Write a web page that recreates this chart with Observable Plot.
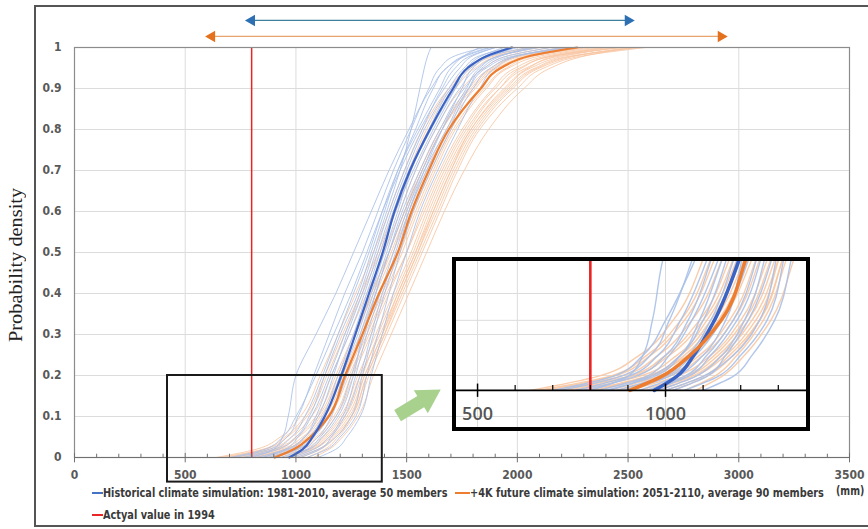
<!DOCTYPE html>
<html>
<head>
<meta charset="utf-8">
<script src="https://cdn.jsdelivr.net/npm/d3@7"></script>
<script src="https://cdn.jsdelivr.net/npm/@observablehq/plot@0.6"></script>
<style>
  html, body { margin: 0; padding: 0; background: #fff; }
  body { width: 868px; height: 529px; overflow: hidden; position: relative; }
  #main { position: absolute; left: 0; top: 0; }
  #frame { position: absolute; left: 34px; top: 5px; width: 900px; height: 518px; border: 2px solid #555; pointer-events: none; }
  #inset { position: absolute; left: 452px; top: 257px; width: 350px; height: 166px; border: 4px solid #000; overflow: hidden; }
  .lab { position: absolute; font-family: "Liberation Sans Narrow", "DejaVu Sans Condensed", "Arial Narrow", sans-serif; font-weight: bold; font-size: 12px; line-height: 14px; color: #3a3a3a; white-space: nowrap; transform-origin: left center; }
  .sw { position: absolute; height: 2px; }
  #ytitle { position: absolute; left: -84px; top: 253px; width: 200px; height: 24px; line-height: 24px; text-align: center; transform: rotate(-90deg); font-family: "Liberation Serif", "DejaVu Serif", serif; font-size: 19px; color: #222; white-space: nowrap; }
  #ytitle span { display: inline-block; transform-origin: center center; }
</style>
</head>
<body>
<div id="main"></div>
<div id="inset"></div>
<div id="frame"></div>
<div id="ytitle"><span>Probability density</span></div>
<div class="sw" style="left:92px;top:492px;width:11px;background:#4472c4"></div>
<div class="lab" id="lg1" style="left:103px;top:486px">Historical climate simulation: 1981-2010, average 50 members</div>
<div class="sw" style="left:455px;top:492px;width:15px;background:#ed7d31"></div>
<div class="lab" id="lg2" style="left:470px;top:486px">+4K future climate simulation: 2051-2110, average 90 members</div>
<div class="lab" id="lg3" style="left:836px;top:484px">(mm)</div>
<div class="sw" style="left:92px;top:514px;width:11px;background:#e8262a"></div>
<div class="lab" id="lg4" style="left:103px;top:508px">Actyal value in 1994</div>
<script>
// ---------- data ----------
const xTicks = [0, 500, 1000, 1500, 2000, 2500, 3000, 3500];
const xMinorTicks = [100,200,300,400,600,700,800,900,1100,1200,1300,1400,1600,1700,1800,1900,2100,2200,2300,2400,2600,2700,2800,2900,3100,3200,3300,3400];
const yTicks = [0, 0.1, 0.2, 0.3, 0.4, 0.5, 0.6, 0.7, 0.8, 0.9, 1];
const yTickLabels = ["0", "0.1", "0.2", "0.3", "0.4", "0.5", "0.6", "0.7", "0.8", "0.9", "1"];

// cumulative probability levels at which each curve was read
const probs = [0, 0.02, 0.05, 0.1, 0.2, 0.3, 0.4, 0.5, 0.6, 0.7, 0.8, 0.9, 0.95, 0.98, 1];

// ensemble means (mm)
const histMean = [970, 1030, 1075, 1130, 1205, 1268, 1330, 1392, 1445, 1515, 1605, 1710, 1775, 1865, 1975];
const futMean  = [905, 990, 1065, 1148, 1222, 1300, 1375, 1460, 1522, 1600, 1690, 1835, 1925, 2060, 2270];

// individual members (mm), read approximately
const histMembers = [
  [720, 880, 960, 1010, 1080, 1150, 1220, 1300, 1370, 1440, 1520, 1600, 1650, 1720, 1850],
  [850, 960, 1040, 1100, 1170, 1230, 1300, 1360, 1420, 1490, 1570, 1660, 1720, 1790, 1900],
  [900, 1010, 1080, 1150, 1230, 1290, 1350, 1410, 1470, 1540, 1630, 1740, 1820, 1920, 2080],
  [780, 920, 1000, 1060, 1130, 1200, 1280, 1340, 1400, 1460, 1540, 1620, 1680, 1770, 1880],
  [950, 1050, 1110, 1180, 1250, 1310, 1360, 1420, 1480, 1560, 1650, 1760, 1850, 1960, 2150],
  [980, 1080, 1150, 1210, 1270, 1320, 1380, 1440, 1500, 1580, 1680, 1780, 1860, 1990, 2230],
  [820, 950, 1010, 1070, 1150, 1220, 1290, 1350, 1410, 1470, 1520, 1560, 1580, 1595, 1610],
  [1000, 1100, 1180, 1250, 1300, 1350, 1400, 1460, 1510, 1580, 1660, 1750, 1800, 1880, 2000],
  [870, 990, 1060, 1120, 1190, 1260, 1320, 1380, 1440, 1510, 1600, 1700, 1780, 1860, 1960],
  [1050, 1140, 1200, 1270, 1320, 1370, 1420, 1470, 1530, 1610, 1700, 1800, 1880, 2000, 2200],
  [760, 900, 980, 1040, 1120, 1190, 1260, 1330, 1390, 1460, 1550, 1650, 1700, 1760, 1830],
  [930, 1030, 1100, 1160, 1210, 1280, 1340, 1400, 1460, 1520, 1610, 1720, 1790, 1880, 2050],
  [1100, 1180, 1230, 1290, 1340, 1390, 1440, 1500, 1560, 1640, 1730, 1830, 1900, 2010, 2270],
  [890, 1000, 1070, 1130, 1200, 1270, 1330, 1390, 1450, 1530, 1620, 1720, 1770, 1840, 1940],
  [960, 1060, 1120, 1190, 1260, 1300, 1360, 1420, 1490, 1570, 1660, 1770, 1830, 1920, 2100],
  [700, 860, 940, 1000, 1090, 1170, 1250, 1320, 1390, 1470, 1560, 1670, 1740, 1800, 1900],
  [1020, 1110, 1160, 1220, 1290, 1340, 1390, 1450, 1510, 1590, 1690, 1780, 1840, 1930, 2060],
  [840, 970, 1040, 1090, 1160, 1240, 1310, 1370, 1430, 1500, 1580, 1690, 1760, 1830, 1980],
  [800, 900, 940, 965, 1000, 1090, 1180, 1260, 1340, 1420, 1510, 1610, 1680, 1760, 1870]
];
const futMembers = [
  [640, 820, 930, 1020, 1110, 1190, 1270, 1350, 1420, 1490, 1570, 1690, 1780, 1880, 2050],
  [720, 900, 1000, 1090, 1180, 1260, 1340, 1420, 1490, 1560, 1650, 1780, 1880, 2000, 2200],
  [850, 980, 1070, 1150, 1240, 1320, 1400, 1480, 1550, 1630, 1720, 1860, 1960, 2110, 2350],
  [900, 1030, 1120, 1200, 1280, 1360, 1440, 1520, 1590, 1670, 1770, 1920, 2040, 2200, 2450],
  [980, 1080, 1160, 1240, 1310, 1390, 1470, 1550, 1620, 1700, 1800, 1960, 2080, 2250, 2550],
  [760, 930, 1030, 1110, 1200, 1270, 1350, 1430, 1500, 1570, 1660, 1800, 1900, 2030, 2280],
  [1050, 1130, 1190, 1260, 1330, 1410, 1490, 1570, 1650, 1730, 1830, 2000, 2120, 2300, 2580],
  [680, 860, 960, 1050, 1140, 1220, 1300, 1380, 1450, 1520, 1600, 1720, 1810, 1920, 2100],
  [820, 960, 1050, 1130, 1220, 1300, 1380, 1460, 1530, 1610, 1700, 1830, 1930, 2070, 2320],
  [930, 1050, 1130, 1210, 1290, 1380, 1460, 1540, 1610, 1690, 1790, 1940, 2050, 2180, 2400],
  [700, 880, 980, 1070, 1160, 1240, 1320, 1400, 1470, 1540, 1630, 1750, 1850, 1960, 2150],
  [870, 1000, 1090, 1170, 1250, 1330, 1410, 1500, 1570, 1650, 1750, 1890, 1990, 2140, 2380],
  [1000, 1100, 1170, 1250, 1320, 1400, 1480, 1560, 1640, 1720, 1820, 1980, 2100, 2270, 2500],
  [790, 950, 1040, 1120, 1210, 1290, 1360, 1440, 1510, 1590, 1680, 1810, 1910, 2050, 2260],
  [950, 1060, 1140, 1220, 1300, 1370, 1450, 1530, 1600, 1680, 1780, 1920, 2020, 2160, 2420],
  [660, 850, 950, 1040, 1130, 1210, 1290, 1370, 1440, 1510, 1590, 1700, 1790, 1900, 2080],
  [880, 1010, 1100, 1180, 1260, 1340, 1420, 1500, 1580, 1660, 1760, 1900, 2010, 2170, 2480],
  [1080, 1150, 1210, 1280, 1350, 1430, 1510, 1590, 1670, 1760, 1870, 2030, 2150, 2310, 2520],
  [740, 910, 1010, 1100, 1190, 1270, 1340, 1420, 1490, 1570, 1660, 1790, 1890, 2010, 2230],
  [960, 1070, 1150, 1230, 1310, 1390, 1460, 1540, 1620, 1700, 1790, 1950, 2060, 2220, 2450],
  [810, 950, 1060, 1140, 1230, 1310, 1390, 1470, 1540, 1620, 1710, 1850, 1950, 2080, 2300],
  [1020, 1110, 1180, 1250, 1320, 1400, 1470, 1550, 1630, 1710, 1810, 1970, 2090, 2260, 2540]
];

const actual1994 = 800;
const histRange = [800, 2500];
const futRange = [620, 2920];
const zoomX = [420, 1390];
const zoomY = [-0.06, 0.2];
const insetX = [444, 1375];
const insetY = [-0.053, 0.184];
const insetTicks = [500, 1000];
const insetMinor = [600, 700, 800, 900, 1100, 1200, 1300];

// ---------- tables ----------
const toRows = (members, tag) => members.flatMap((m, i) => m.map((x, j) => ({member: tag + i, x, p: probs[j]})));
const histRows = toRows(histMembers, "h");
const futRows = toRows(futMembers, "f");
const histMeanRows = histMean.map((x, j) => ({x, p: probs[j]}));
const futMeanRows = futMean.map((x, j) => ({x, p: probs[j]}));

const tickFont = {fontFamily: '"Liberation Sans Narrow", "DejaVu Sans Condensed", "Arial Narrow", sans-serif', fontWeight: "bold", fontSize: 12, fill: "#595959"};

const C = {
  histLight: "#a9c0e8", futLight: "#f8c6a2",
  hist: "#3b63c4", fut: "#ed7d31", red: "#ea2424"
};

// ---------- main chart ----------
const main = Plot.plot({
  width: 868, height: 529,
  marginLeft: 74, marginRight: 19, marginTop: 47, marginBottom: 72,
  x: {domain: [0, 3500], axis: null},
  y: {domain: [0, 1], axis: null},
  style: {background: "transparent", overflow: "visible"},
  marks: [
    Plot.ruleX(xTicks.slice(1, -1), {stroke: "#dcdcdc", strokeWidth: 1}),
    Plot.ruleY(yTicks.slice(1, -1), {stroke: "#dcdcdc", strokeWidth: 1}),
    Plot.line(futRows, {x: "x", y: "p", z: "member", stroke: C.futLight, strokeWidth: 1, strokeOpacity: 0.85, curve: "monotone-y"}),
    Plot.line(histRows, {x: "x", y: "p", z: "member", stroke: C.histLight, strokeWidth: 1, strokeOpacity: 0.85, curve: "monotone-y"}),
    Plot.line(futMeanRows, {x: "x", y: "p", stroke: C.fut, strokeWidth: 2.2, curve: "monotone-y"}),
    Plot.line(histMeanRows, {x: "x", y: "p", stroke: C.hist, strokeWidth: 2.2, curve: "monotone-y"}),
    Plot.ruleX([actual1994], {y1: 0, y2: 1, stroke: C.red, strokeWidth: 1.5}),
    Plot.frame({stroke: "#8c8c8c", strokeWidth: 1.2}),
    Plot.ruleY([0], {stroke: "#707070", strokeWidth: 1.2}),
    Plot.ruleX(xTicks, {y1: -0.013, y2: 0.01, stroke: "#707070", strokeWidth: 1}),
    Plot.ruleX(xMinorTicks, {y1: 0, y2: 0.008, stroke: "#707070", strokeWidth: 1}),
    Plot.text(xTicks, {x: d => d, y: 0, dy: 18, text: d => String(d), ...tickFont}),
    Plot.text(yTicks, {x: 0, y: d => d, dx: -13, textAnchor: "end", text: (d, i) => yTickLabels[i], ...tickFont}),
    // zoom region box
    Plot.rect([0], {x1: zoomX[0], x2: zoomX[1], y1: zoomY[0], y2: zoomY[1], fill: "none", stroke: "#1a1a1a", strokeWidth: 2}),
    // range arrows
    Plot.link([0], {x1: histRange[0], x2: histRange[1], y1: 1.066, y2: 1.066, stroke: "#3d7f9c", strokeWidth: 1.3}),
    Plot.dot(histRange, {x: d => d, y: 1.066, symbol: "triangle", r: 4.3, fill: "#2d6fb3", stroke: "none", rotate: (d, i) => i ? 90 : -90}),
    Plot.link([0], {x1: futRange[0], x2: futRange[1], y1: 1.027, y2: 1.027, stroke: "#e8a46c", strokeWidth: 1.3}),
    Plot.dot(futRange, {x: d => d, y: 1.027, symbol: "triangle", r: 4.3, fill: "#e4711e", stroke: "none", rotate: (d, i) => i ? 90 : -90}),
    // green pointer arrow to the inset
    Plot.link([0], {x1: 1459, y1: 0.102, x2: 1575, y2: 0.140, stroke: "#a9d18e", strokeWidth: 13}),
    Plot.dot([0], {x: 1594, y: 0.146, symbol: "triangle", r: 10, fill: "#a9d18e", stroke: "none", rotate: 58.6})
  ]
});
document.getElementById("main").append(main);

// ---------- inset (zoom of lower tail) ----------
const inset = Plot.plot({
  width: 350, height: 166, margin: 0,
  x: {domain: insetX, axis: null},
  y: {domain: insetY, axis: null},
  style: {background: "transparent"},
  marks: [
    Plot.ruleX(insetTicks, {stroke: "#dcdcdc"}),
    Plot.ruleY([0.1], {stroke: "#dcdcdc"}),
    Plot.line(futRows, {x: "x", y: "p", z: "member", stroke: C.futLight, strokeWidth: 1.4, strokeOpacity: 0.9, curve: "monotone-y", clip: true}),
    Plot.line(histRows, {x: "x", y: "p", z: "member", stroke: C.histLight, strokeWidth: 1.4, strokeOpacity: 0.9, curve: "monotone-y", clip: true}),
    Plot.line(histMeanRows, {x: "x", y: "p", stroke: C.hist, strokeWidth: 3.5, curve: "monotone-y", clip: true}),
    Plot.line(futMeanRows, {x: "x", y: "p", stroke: C.fut, strokeWidth: 3.5, curve: "monotone-y", clip: true}),
    Plot.ruleX([actual1994], {y1: 0, y2: 0.2, stroke: C.red, strokeWidth: 2.6}),
    Plot.ruleY([0], {stroke: "#000", strokeWidth: 1.6}),
    Plot.ruleX(insetTicks, {y1: -0.01, y2: 0.009, stroke: "#000", strokeWidth: 1.5}),
    Plot.ruleX(insetMinor, {y1: 0, y2: 0.007, stroke: "#000", strokeWidth: 1.2}),
    Plot.text(insetTicks, {x: d => d, y: -0.034, text: d => String(d), fontFamily: '"Open Sans", "DejaVu Sans", sans-serif', fontWeight: 600, fontSize: 18, fill: "#555"})
  ]
});
document.getElementById("inset").append(inset);

// ---------- fit legend / title text widths (layout widths, not rotated boxes) ----------
function fit(el, w) {
  el.style.transform = "none";
  const r = el.offsetWidth;
  if (r > 0) el.style.transform = `scaleX(${w / r})`;
}
function fitAll() {
  fit(document.getElementById("lg1"), 344);
  fit(document.getElementById("lg2"), 354);
  fit(document.getElementById("lg3"), 28);
  fit(document.getElementById("lg4"), 112);
  fit(document.querySelector("#ytitle span"), 154);
}
fitAll();
if (document.fonts && document.fonts.ready) document.fonts.ready.then(fitAll);
</script>
</body>
</html>
